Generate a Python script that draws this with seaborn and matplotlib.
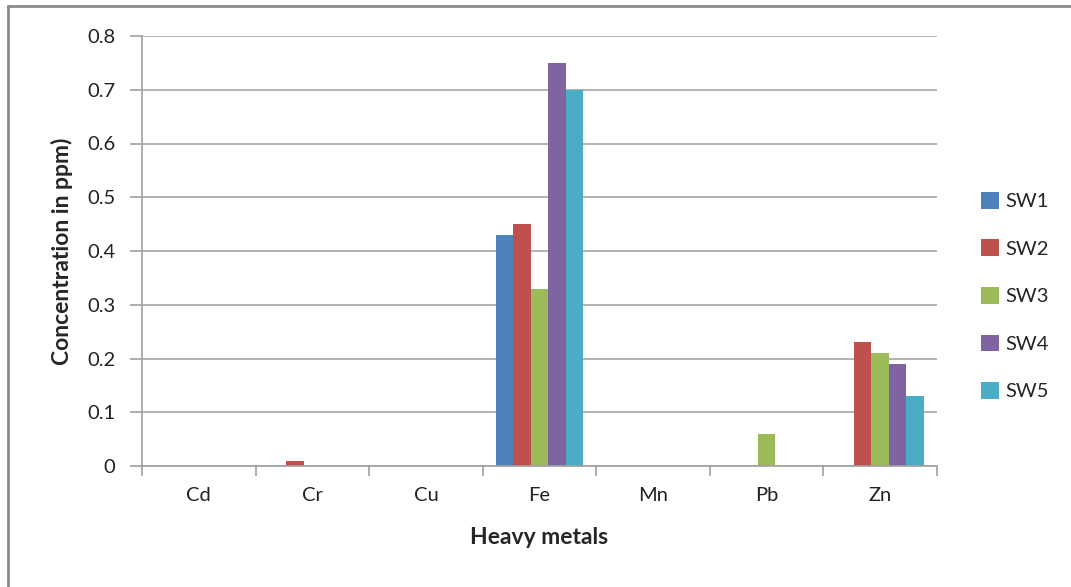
import numpy as np
import pandas as pd
import matplotlib
matplotlib.use("Agg")
import matplotlib.pyplot as plt
from matplotlib.lines import Line2D
import seaborn as sns

# Heavy metal concentrations (ppm) at five surface-water sites
metals = ["Cd", "Cr", "Cu", "Fe", "Mn", "Pb", "Zn"]
sites = ["SW1", "SW2", "SW3", "SW4", "SW5"]
sw1 = [0.0, 0.0, 0.0, 0.43, 0.0, 0.0, 0.0]
sw2 = [0.0, 0.01, 0.0, 0.45, 0.0, 0.0, 0.23]
sw3 = [0.0, 0.0, 0.0, 0.33, 0.0, 0.06, 0.21]
sw4 = [0.0, 0.0, 0.0, 0.75, 0.0, 0.0, 0.19]
sw5 = [0.0, 0.0, 0.0, 0.70, 0.0, 0.0, 0.13]
y_ticks = [0, 0.1, 0.2, 0.3, 0.4, 0.5, 0.6, 0.7, 0.8]
y_tick_labels = ["0", "0.1", "0.2", "0.3", "0.4", "0.5", "0.6", "0.7", "0.8"]

palette = ["#4F81BD", "#C0504D", "#9BBB59", "#8064A2", "#4BACC6"]

rows = []
for site, vals in zip(sites, [sw1, sw2, sw3, sw4, sw5]):
    for metal, v in zip(metals, vals):
        rows.append({"metal": metal, "site": site, "ppm": v})
df = pd.DataFrame(rows)

sns.set_theme(style="white")
plt.rcParams["font.family"] = ["Lato", "DejaVu Sans"]

fig = plt.figure(figsize=(10.71, 5.87), dpi=100)
ax = fig.add_axes([142 / 1071, 1 - 466 / 587, (937 - 142) / 1071, (466 - 36) / 587])

sns.barplot(data=df, x="metal", y="ppm", hue="site", order=metals,
            hue_order=sites, palette=palette, width=5 / 6.5, gap=0,
            linewidth=0, errorbar=None, saturation=1, ax=ax)

ax.set_xlim(-0.5, len(metals) - 0.5)
ax.set_ylim(0, 0.8)
ax.set_yticks(y_ticks)
ax.set_yticklabels(y_tick_labels)
ax.yaxis.grid(True, color="#A6A6A6", linewidth=1.2)
ax.set_axisbelow(True)

for side in ["top", "right"]:
    ax.spines[side].set_visible(False)
for side in ["left", "bottom"]:
    ax.spines[side].set_color("#A0A0A0")
    ax.spines[side].set_linewidth(1.2)

ax.tick_params(axis="y", which="major", left=True, length=9, width=1.2,
               color="#A0A0A0", labelsize=14.5, labelcolor="#222222", pad=10)
ax.tick_params(axis="x", which="major", bottom=False, labelsize=14.5,
               labelcolor="#222222", pad=9)
ax.set_xticks(np.arange(-0.5, len(metals)), minor=True)
ax.tick_params(axis="x", which="minor", bottom=True, length=7, width=1.2,
               color="#A0A0A0")

ax.set_xlabel("Heavy metals", fontsize=16.5, fontweight="bold", labelpad=17)
ax.set_ylabel("Concentration in ppm)", fontsize=16.5, fontweight="bold", labelpad=10)

leg = ax.legend(loc="center left", bbox_to_anchor=(1.032, 0.395), frameon=False,
                fontsize=14.5, handlelength=0.9, handleheight=0.9,
                handletextpad=0.35, labelspacing=1.45)

# outer chart frame (top and left edges)
fig.add_artist(Line2D([8 / 1071, 8 / 1071], [0, 1 - 6 / 587],
                      transform=fig.transFigure, color="#8A8A8A", linewidth=2))
fig.add_artist(Line2D([8 / 1071, 1], [1 - 6 / 587, 1 - 6 / 587],
                      transform=fig.transFigure, color="#8A8A8A", linewidth=2))

fig.savefig("out.png", dpi=100, facecolor="white")
